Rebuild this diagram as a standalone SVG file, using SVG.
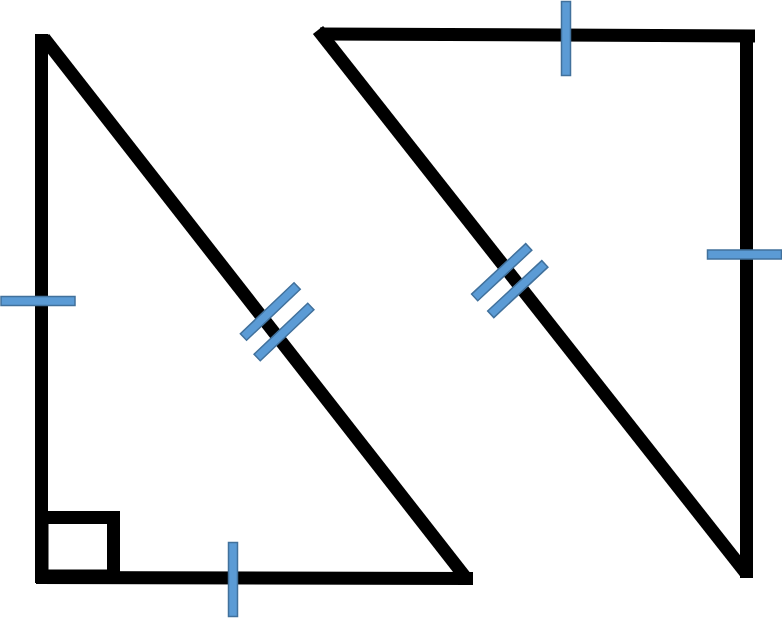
<svg xmlns="http://www.w3.org/2000/svg" width="782" height="618" viewBox="0 0 782 618">
<style>
.edge{stroke:#000;stroke-width:13;fill:none;stroke-linecap:butt}
.tick{fill:#5B9BD5;stroke:#41719C;stroke-width:1.5}
</style>
<rect width="782" height="618" fill="#fff"/>
<g id="left-triangle">
<line class="edge" x1="44" y1="38" x2="466" y2="578"/>
<line class="edge" x1="41.5" y1="34" x2="41.5" y2="583"/>
<line class="edge" x1="36" y1="577.5" x2="473" y2="578.5"/>
<rect class="edge" x="42" y="517.5" width="71.5" height="58.5"/>
</g>
<g id="right-triangle">
<line class="edge" x1="318" y1="30" x2="745" y2="572"/>
<line class="edge" x1="320" y1="34" x2="755" y2="36"/>
<line class="edge" x1="746.5" y1="36" x2="746.5" y2="578"/>
</g>
<g id="tick-marks">
<rect class="tick" x="1" y="296.5" width="74" height="9"/>
<rect class="tick" x="228.5" y="542.5" width="9" height="74"/>
<rect class="tick" x="561.5" y="1.5" width="9" height="74"/>
<rect class="tick" x="707.5" y="250" width="74" height="9"/>
<rect class="tick" x="-37" y="-4.5" width="74" height="9" transform="translate(270.3 311.5) rotate(-43.5)"/>
<rect class="tick" x="-37" y="-4.5" width="74" height="9" transform="translate(284 332) rotate(-43.5)"/>
<rect class="tick" x="-37" y="-4.5" width="74" height="9" transform="translate(501.7 272.2) rotate(-43)"/>
<rect class="tick" x="-37" y="-4.5" width="74" height="9" transform="translate(517.8 289.1) rotate(-43)"/>
</g>
</svg>
